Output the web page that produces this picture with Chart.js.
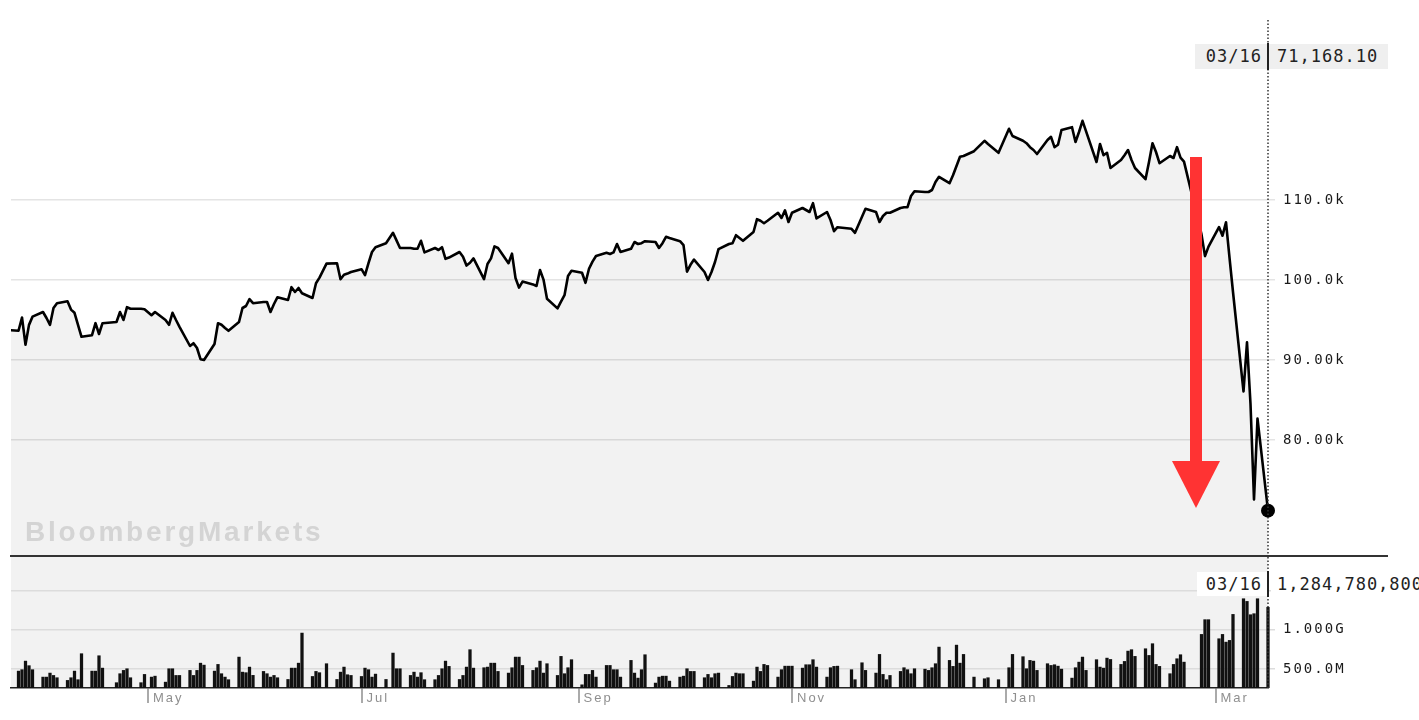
<!DOCTYPE html>
<html>
<head>
<meta charset="utf-8">
<title>Ibovespa 1Y</title>
<script src="https://cdn.jsdelivr.net/npm/chart.js@4.4.1/dist/chart.umd.min.js"></script>
<style>
  html, body { margin: 0; padding: 0; background: #fff; width: 1419px; height: 720px; overflow: hidden; }
  #wrap { position: relative; width: 1419px; height: 720px; }
  canvas { position: absolute; left: 0; }
  #priceCanvas { top: 0; }
  #volumeCanvas { top: 557px; }
  .tag { position: absolute; font-family: 'DejaVu Sans Mono', monospace; font-size: 17px; letter-spacing: 1px;
         color: #222; white-space: nowrap; box-sizing: border-box; overflow: hidden; }
  .bar { position: absolute; background: #222; }
  #sep { position: absolute; left: 10px; top: 555px; width: 1378px; height: 2px; background: #333; }
  #watermark { position: absolute; left: 25px; top: 518px; font-family: 'Liberation Sans', Arial, sans-serif;
               font-weight: bold; font-size: 28px; line-height: 28px; letter-spacing: 2.8px; color: #d4d4d4; }
</style>
</head>
<body>
<div id="wrap">
  <canvas id="priceCanvas" width="1419" height="557"></canvas>
  <canvas id="volumeCanvas" width="1419" height="163"></canvas>
  <div id="watermark">BloombergMarkets</div>
  <div id="sep"></div>
  <div class="tag" id="priceDate" style="left:1195px;top:44px;width:72px;height:25px;line-height:25px;background:#efefef;text-align:right;padding-right:5px;"></div>
  <div class="tag" id="priceValue" style="left:1269px;top:44px;width:119px;height:25px;line-height:25px;background:#efefef;padding-left:8px;"></div>
  <div class="bar" style="left:1267px;top:43px;width:2px;height:27px;"></div>
  <div class="tag" id="volDate" style="left:1197px;top:572px;width:70px;height:24px;line-height:24px;background:#fff;text-align:right;padding-right:5px;"></div>
  <div class="tag" id="volValue" style="left:1271px;top:572px;width:148px;height:24px;line-height:24px;background:#fff;padding-left:6px;"></div>
  <div class="bar" style="left:1267px;top:571px;width:2px;height:26px;"></div>
</div>
<script>
// Ibovespa, daily closes and volume, 22 Mar 2019 - 16 Mar 2020
const firstDay = '2019-03-22';
const lastDay = '2020-03-16';
const holidays = ['2019-04-19', '2019-05-01', '2019-06-20', '2019-07-09', '2019-11-15', '2019-11-20',
                  '2019-12-24', '2019-12-25', '2019-12-31', '2020-01-01', '2020-02-24', '2020-02-25'];

const closes = [
  93735,                                   // Mar 22
  93660, 95310, 91900, 94390, 95420,       // Mar 25-29
  96000, 95250, 94400, 96500, 97100,       // Apr 1-5
  97350, 96300, 95900, 94400, 92900,       // Apr 8-12
  93100, 94600, 93250, 94600,              // Apr 15-18
  94750, 96000, 95000, 96600, 96400,       // Apr 22-26
  96400, 96350, 95600, 96000,              // Apr 29-May 3
  95000, 94400, 95900, 95000, 94150,       // May 6-10
  91750, 92100, 91500, 90100, 90000,       // May 13-17
  92000, 94600, 94400, 94000, 93650,       // May 20-24
  94750, 96500, 96750, 97600, 97100,       // May 27-31
  97250, 97250, 96000, 97000, 97850,       // Jun 3-7
  97500, 99100, 98500, 99000, 98350,       // Jun 10-14
  97750, 99600, 100300, 102050,            // Jun 17-21
  102100, 100100, 100650, 100800, 101000,  // Jun 24-28
  101350, 100600, 102100, 103500, 104100,  // Jul 1-5
  104600, 105900, 104950, 104000,          // Jul 8-12
  104000, 103900, 103900, 104900, 103450,  // Jul 15-19
  104000, 103750, 104100, 102650, 102800,  // Jul 22-26
  103500, 102900, 101800, 102150, 102700,  // Jul 29-Aug 2
  100100, 102000, 102700, 104200, 104000,  // Aug 5-9
  102100, 103300, 100250, 99050, 99800,    // Aug 12-16
  99450, 99250, 101250, 100050, 97650,     // Aug 19-23
  96450, 97300, 98100, 100500, 101150,     // Aug 26-30
  100900, 99650, 101400, 102300, 103000,   // Sep 2-6
  103400, 103250, 103450, 104500, 103500,  // Sep 9-13
  103900, 104750, 104500, 104600, 104850,  // Sep 16-20
  104750, 104000, 104600, 105400, 105250,  // Sep 23-27
  104850, 104350, 101050, 101900, 102550,  // Sep 30-Oct 4
  101000, 100000, 101000, 102250, 103850,  // Oct 7-11
  104500, 104600, 105600, 105250, 104900,  // Oct 14-18
  106000, 107600, 107400, 107100, 107400,  // Oct 21-25
  108400, 107750, 108700, 107250, 108400,  // Oct 28-Nov 1
  109000, 108750, 108500, 109600, 107700,  // Nov 4-8
  108500, 107500, 106100, 106600,          // Nov 11-14
  106400, 105900, 107900, 108900,          // Nov 18-22
  108500, 107250, 108000, 108400, 108400,  // Nov 25-29
  109000, 109100, 109100, 110500, 111100,  // Dec 2-6
  111000, 111000, 111250, 112250, 112900,  // Dec 9-13
  112100, 113100, 114250, 115400, 115500,  // Dec 16-20
  116100, 117400, 117000,                  // Dec 23-27
  115900, 118900, 118000,                  // Dec 30-Jan 3
  117400, 117100, 116600, 116250, 115750,  // Jan 6-10
  117500, 117900, 116600, 116900, 118750,  // Jan 13-17
  119100, 117250, 118500, 119900, 118600,  // Jan 20-24
  114750, 117000, 115600, 115900, 114000,  // Jan 27-31
  115000, 115600, 116250, 115000, 114000,  // Feb 3-7
  112600, 114750, 117100, 116000, 114600,  // Feb 10-14
  115500, 115250, 116600, 115300, 114800,  // Feb 17-21
  105700, 102980, 104170,                  // Feb 26-28
  106620, 105540, 107220, 102800, 98500,   // Mar 2-6
  86070, 92210, 84500, 72580, 82680,       // Mar 9-13
  71168.10                                 // Mar 16
];

// volume in millions of shares
const volumesM = [
  480,
  474, 492, 601, 543, 492,
  398, 398, 449, 419, 390,
  356, 390, 474, 365, 695,
  474, 474, 669, 512,
  327, 441, 483, 504, 390,
  327, 432, 398, 410,
  334, 504, 504, 419, 419,
  483, 419, 483, 575, 550,
  474, 559, 441, 398, 365,
  652, 461, 454, 525, 420,
  470, 441, 398, 419, 390,
  368, 512, 512, 575, 957,
  406, 470, 454, 568,
  368, 461, 525, 428, 419,
  406, 512, 492, 398, 436,
  368, 703, 504, 504,
  419, 461, 398, 454, 365,
  365, 419, 504, 601, 534,
  368, 419, 525, 746, 512,
  517, 525, 575, 575, 470,
  449, 517, 652, 652, 546,
  483, 517, 601, 449, 568,
  419, 661, 441, 517, 619,
  300, 432, 432, 483, 398,
  546, 546, 492, 492, 398,
  610, 449, 385, 492, 682,
  322, 398, 410, 410, 347,
  398, 410, 504, 470, 470,
  390, 432, 390, 441, 449,
  292, 406, 449, 441, 441,
  347, 525, 470, 559, 546,
  398, 492, 537, 537, 537,
  512, 555, 555, 619, 525,
  398, 517, 534, 537,
  492, 365, 580, 483,
  449, 686, 432, 365, 419,
  470, 517, 492, 441, 504,
  499, 483, 517, 568, 779,
  610, 534, 804, 575, 686,
  398, 377, 390,
  365, 517, 686,
  657, 504, 610, 601, 483,
  568, 546, 555, 537, 499,
  385, 517, 588, 652, 483,
  619, 525, 512, 639, 622,
  559, 597, 728, 746, 661,
  758, 673, 822, 559, 534,
  441, 559, 631, 682, 588,
  940, 1127, 1127,
  885, 940, 842, 864, 1194,
  1393, 1359, 1190, 1203, 1393,
  1284.7808
];

const monthTicks = ['2019-05-01', '2019-07-01', '2019-09-01', '2019-11-01', '2020-01-01', '2020-03-01'];
const monthLabels = ['May', 'Jul', 'Sep', 'Nov', 'Jan', 'Mar'];
const priceTicks = [80000, 90000, 100000, 110000];
const volumeTicks = [500e6, 1000e6, 1500e6];

const DAY = 86400000;
const t0 = Date.parse(firstDay + 'T00:00:00Z');
const dayOf = iso => (Date.parse(iso + 'T00:00:00Z') - t0) / DAY;

function tradingDays() {
  const out = [];
  const end = Date.parse(lastDay + 'T00:00:00Z');
  for (let t = t0; t <= end; t += DAY) {
    const d = new Date(t);
    const iso = d.toISOString().slice(0, 10);
    const wd = d.getUTCDay();
    if (wd !== 0 && wd !== 6 && !holidays.includes(iso)) out.push(iso);
  }
  return out;
}

const days = tradingDays();
const n = Math.min(days.length, closes.length, volumesM.length);
const priceData = [];
const volumeData = [];
for (let i = 0; i < n; i++) {
  priceData.push({ x: dayOf(days[i]), y: closes[i] });
  volumeData.push({ x: dayOf(days[i]), y: volumesM[i] * 1e6 });
}

const xMin = 0.857, xMax = dayOf(lastDay);

function fmtPrice(v) { return (v / 1000).toPrecision(4) + 'k'; }
function fmtVolume(v) { return v >= 1e9 ? (v / 1e9).toPrecision(4) + 'G' : (v / 1e6).toPrecision(4) + 'M'; }

// right axis: fixed width, no extra label padding top/bottom
function fitRightAxis(s) {
  s.width = 151;
  s.paddingTop = 0;
  s.paddingBottom = 0;
}

// header tags
const last = n - 1;
const md = days[last].slice(5).replace('-', '/');
document.getElementById('priceDate').textContent = md;
document.getElementById('priceValue').textContent =
  closes[last].toLocaleString('en-US', { minimumFractionDigits: 2, maximumFractionDigits: 2 });
document.getElementById('volDate').textContent = md;
document.getElementById('volValue').textContent = Math.round(volumesM[last] * 1e6).toLocaleString('en-US');

// plugins
const paneBackground = {
  id: 'paneBackground',
  beforeDraw(chart, args, opts) {
    chart.ctx.letterSpacing = '2px';
    if (!opts.color) return;
    const { ctx, chartArea: a } = chart;
    ctx.save();
    ctx.fillStyle = opts.color;
    ctx.fillRect(a.left, a.top, a.right - a.left, a.bottom - a.top);
    ctx.restore();
  },
  afterDraw(chart) { chart.ctx.letterSpacing = '0px'; }
};

const cursorLine = {
  id: 'cursorLine',
  afterDatasetsDraw(chart) {
    const { ctx, chartArea: a } = chart;
    ctx.save();
    ctx.strokeStyle = '#333';
    ctx.lineWidth = 1.5;
    ctx.setLineDash([1.5, 2]);
    ctx.beginPath();
    ctx.moveTo(a.right, a.top);
    ctx.lineTo(a.right, a.bottom);
    ctx.stroke();
    ctx.restore();
  }
};

const redArrow = {
  id: 'redArrow',
  afterDatasetsDraw(chart) {
    const ctx = chart.ctx;
    ctx.save();
    ctx.fillStyle = '#ff3333';
    ctx.fillRect(1190, 157, 12, 305);
    ctx.beginPath();
    ctx.moveTo(1172, 461);
    ctx.lineTo(1220, 461);
    ctx.lineTo(1196, 508);
    ctx.closePath();
    ctx.fill();
    ctx.restore();
  }
};

Chart.defaults.animation = false;

new Chart(document.getElementById('priceCanvas'), {
  type: 'line',
  data: {
    datasets: [{
      data: priceData,
      borderColor: '#000',
      borderWidth: 2.6,
      borderJoinStyle: 'round',
      backgroundColor: 'rgba(0,0,0,0.05)',
      fill: 'start',
      tension: 0,
      pointRadius: ctx => ctx.dataIndex === last ? 7 : 0,
      pointHoverRadius: 0,
      pointBackgroundColor: '#000',
      pointBorderWidth: 0,
      clip: { left: 0, top: 0, right: 10, bottom: 0 }
    }]
  },
  options: {
    responsive: false,
    maintainAspectRatio: false,
    events: [],
    layout: { autoPadding: false, padding: { left: 11, top: 20, right: 0, bottom: 1 } },
    plugins: { legend: { display: false }, tooltip: { enabled: false } },
    scales: {
      x: { type: 'linear', display: false, min: xMin, max: xMax },
      y: {
        position: 'right',
        min: 65500,
        max: 132500,
        afterFit: fitRightAxis,
        afterBuildTicks: s => { s.ticks = priceTicks.map(v => ({ value: v })); },
        border: { display: false },
        grid: { color: '#e4e4e4', lineWidth: 1.5, tickLength: 7 },
        ticks: { padding: 8, color: '#1a1a1a', font: { family: 'DejaVu Sans Mono', size: 14 }, callback: v => fmtPrice(v) }
      }
    }
  },
  plugins: [paneBackground, cursorLine, redArrow]
});

new Chart(document.getElementById('volumeCanvas'), {
  type: 'bar',
  data: {
    datasets: [{
      data: volumeData,
      backgroundColor: '#111',
      borderWidth: 0,
      barThickness: 2.6,
      clip: { left: 0, top: 0, right: 3, bottom: 0 }
    }]
  },
  options: {
    responsive: false,
    maintainAspectRatio: false,
    events: [],
    layout: { autoPadding: false, padding: { left: 11, top: 0, right: 0, bottom: 0 } },
    plugins: { legend: { display: false }, tooltip: { enabled: false }, paneBackground: { color: '#f2f2f2' } },
    scales: {
      x: {
        type: 'linear',
        min: xMin,
        max: xMax,
        offset: false,
        afterFit: s => { s.height = 32; },
        afterBuildTicks: s => { s.ticks = monthTicks.map(m => ({ value: dayOf(m) })); },
        border: { display: true, color: '#222', width: 1.5 },
        grid: { offset: false, drawOnChartArea: false, tickLength: 15, color: '#aaa', lineWidth: 2 },
        ticks: {
          align: 'start', padding: -12, labelOffset: 5, autoSkip: false, maxRotation: 0,
          color: '#8f8f8f', font: { family: 'Liberation Sans', size: 13 },
          callback: (v, i) => monthLabels[i]
        }
      },
      y: {
        position: 'right',
        min: 259.6e6,
        max: 1923e6,
        afterFit: fitRightAxis,
        afterBuildTicks: s => { s.ticks = volumeTicks.map(v => ({ value: v })); },
        border: { display: false },
        grid: { color: '#dcdcdc', lineWidth: 1.5, tickLength: 7 },
        ticks: { padding: 8, color: '#1a1a1a', font: { family: 'DejaVu Sans Mono', size: 14 },
                 callback: v => v === 1500e6 ? '' : fmtVolume(v) }
      }
    }
  },
  plugins: [paneBackground, cursorLine]
});
</script>
</body>
</html>
